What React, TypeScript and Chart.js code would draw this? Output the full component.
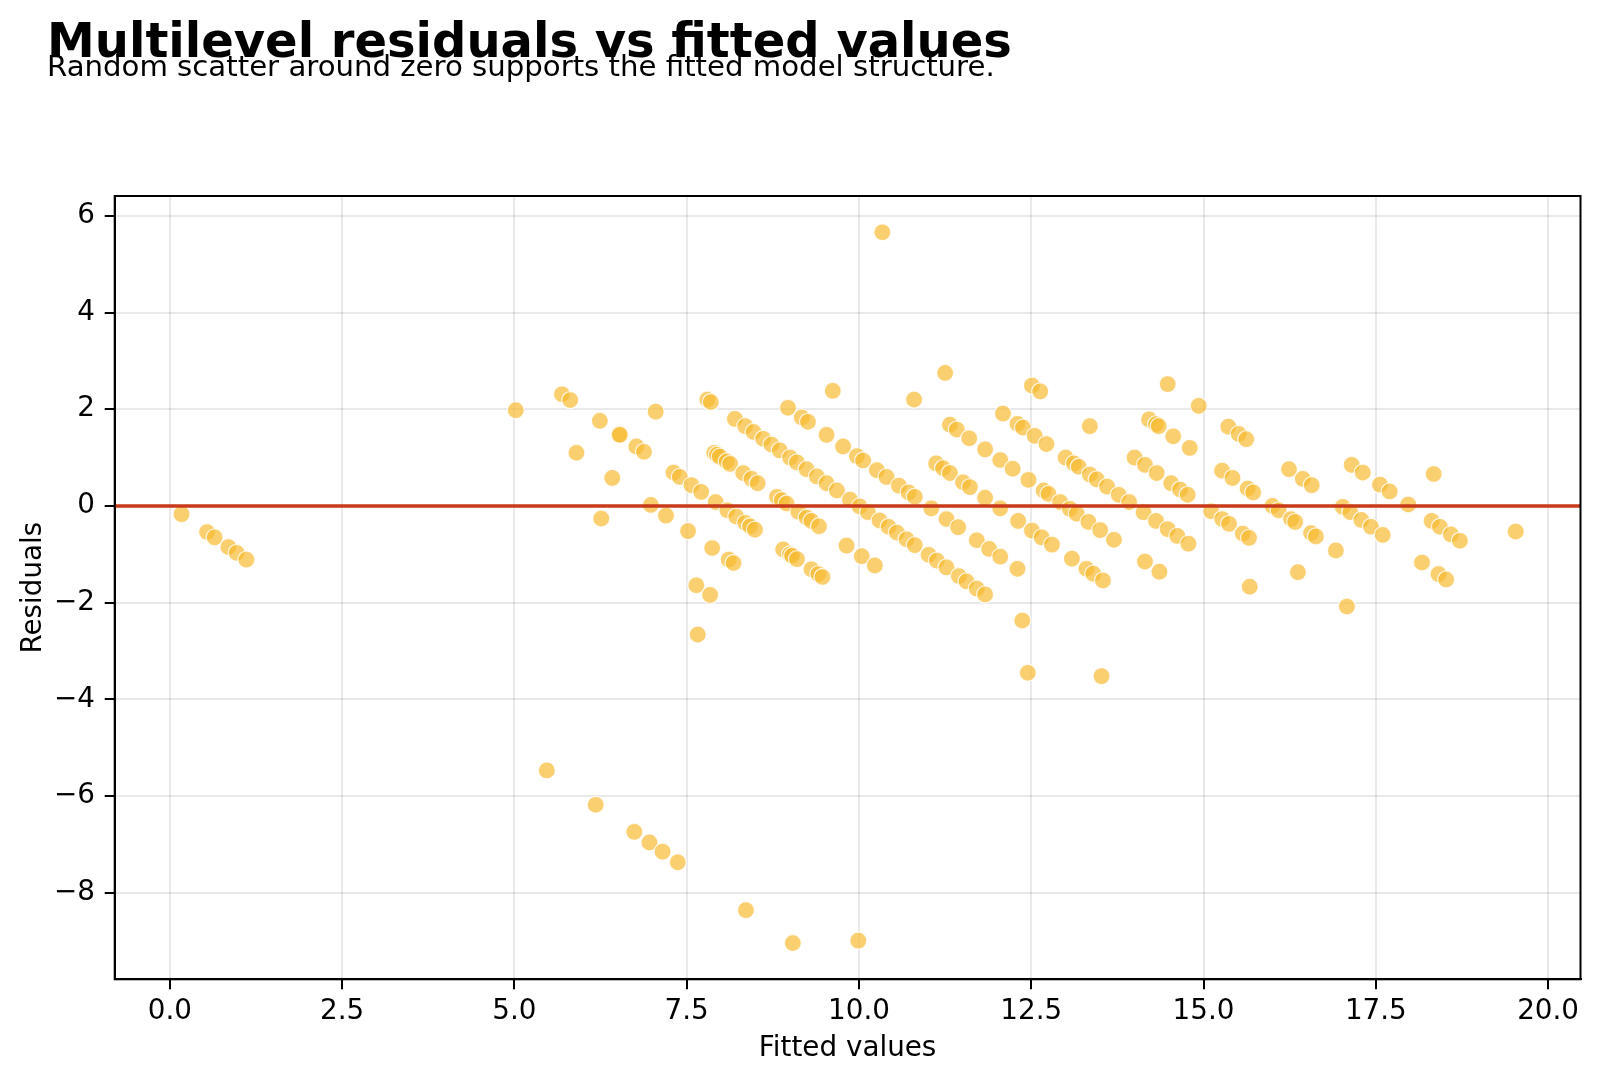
import React, { useEffect, useRef } from 'react';
import { Chart, registerables } from 'chart.js';

Chart.register(...registerables);

const FONT = "'DejaVu Sans', 'Liberation Sans', sans-serif";

const TITLE = 'Multilevel residuals vs fitted values';
const SUBTITLE = 'Random scatter around zero supports the fitted model structure.';
const X_LABEL = 'Fitted values';
const Y_LABEL = 'Residuals';

const xTicks = [0, 2.5, 5, 7.5, 10, 12.5, 15, 17.5, 20];
const yTicks = [-8, -6, -4, -2, 0, 2, 4, 6];
const X_MIN = -0.8;
const X_MAX = 20.47;
const Y_MIN = -9.79;
const Y_MAX = 6.41;
const ZERO_LINE = 0;

// [fitted value, residual] pairs, grouped by the observed count
const obs0: [number, number][] = [[0.17, -0.17], [0.54, -0.54], [0.65, -0.65], [0.85, -0.85], [0.97, -0.97], [1.11, -1.11], [5.47, -5.47], [6.18, -6.18], [6.74, -6.74], [6.96, -6.96], [7.15, -7.15], [7.37, -7.37], [8.36, -8.36], [9.04, -9.04]];
const obs1: [number, number][] = [[9.99, -8.99]];
const obs5: [number, number][] = [[7.66, -2.66]];
const obs6: [number, number][] = [[6.26, -0.26], [7.64, -1.64], [7.84, -1.84]];
const obs7: [number, number][] = [[5.02, 1.98], [5.90, 1.10], [6.42, 0.58], [6.98, 0.02], [7.20, -0.20], [7.52, -0.52], [7.87, -0.87], [8.11, -1.11], [8.18, -1.18]];
const obs8: [number, number][] = [[5.69, 2.31], [5.81, 2.19], [6.24, 1.76], [6.52, 1.48], [6.53, 1.47], [6.77, 1.23], [6.88, 1.12], [7.31, 0.69], [7.40, 0.60], [7.57, 0.43], [7.71, 0.29], [7.92, 0.08], [8.09, -0.09], [8.22, -0.22], [8.35, -0.35], [8.42, -0.42], [8.49, -0.49], [8.90, -0.90], [9.00, -1.00], [9.03, -1.03], [9.10, -1.10], [9.31, -1.31], [9.41, -1.41], [9.47, -1.47]];
const obs9: [number, number][] = [[7.05, 1.95], [7.90, 1.10], [7.94, 1.06], [7.98, 1.02], [8.08, 0.92], [8.13, 0.87], [8.32, 0.68], [8.44, 0.56], [8.53, 0.47], [8.81, 0.19], [8.88, 0.12], [8.95, 0.05], [9.12, -0.12], [9.24, -0.24], [9.31, -0.31], [9.42, -0.42], [9.82, -0.82], [10.04, -1.04], [10.23, -1.23], [12.45, -3.45]];
const obs10: [number, number][] = [[7.80, 2.20], [7.85, 2.15], [8.20, 1.80], [8.35, 1.65], [8.47, 1.53], [8.61, 1.39], [8.73, 1.27], [8.85, 1.15], [9.00, 1.00], [9.10, 0.90], [9.24, 0.76], [9.39, 0.61], [9.53, 0.47], [9.68, 0.32], [9.87, 0.13], [10.01, -0.01], [10.13, -0.13], [10.30, -0.30], [10.43, -0.43], [10.55, -0.55], [10.69, -0.69], [10.81, -0.81], [11.01, -1.01], [11.13, -1.13], [11.27, -1.27], [11.45, -1.45], [11.56, -1.56], [11.71, -1.71], [11.83, -1.83], [12.37, -2.37], [13.52, -3.52]];
const obs11: [number, number][] = [[8.97, 2.03], [9.17, 1.83], [9.26, 1.74], [9.53, 1.47], [9.77, 1.23], [9.97, 1.03], [10.06, 0.94], [10.26, 0.74], [10.40, 0.60], [10.58, 0.42], [10.72, 0.28], [10.81, 0.19], [11.05, -0.05], [11.27, -0.27], [11.44, -0.44], [11.71, -0.71], [11.89, -0.89], [12.05, -1.05], [12.30, -1.30]];
const obs12: [number, number][] = [[9.62, 2.38], [11.12, 0.88], [11.22, 0.78], [11.32, 0.68], [11.51, 0.49], [11.61, 0.39], [11.83, 0.17], [12.05, -0.05], [12.31, -0.31], [12.51, -0.51], [12.65, -0.65], [12.80, -0.80], [13.09, -1.09], [13.30, -1.30], [13.40, -1.40], [13.54, -1.54]];
const obs13: [number, number][] = [[10.80, 2.20], [11.32, 1.68], [11.42, 1.58], [11.60, 1.40], [11.83, 1.17], [12.05, 0.95], [12.23, 0.77], [12.46, 0.54], [12.68, 0.32], [12.75, 0.25], [12.92, 0.08], [13.06, -0.06], [13.16, -0.16], [13.33, -0.33], [13.50, -0.50], [13.70, -0.70], [14.15, -1.15], [14.36, -1.36]];
const obs14: [number, number][] = [[11.25, 2.75], [12.09, 1.91], [12.30, 1.70], [12.38, 1.62], [12.55, 1.45], [12.72, 1.28], [13.00, 1.00], [13.12, 0.88], [13.19, 0.81], [13.35, 0.65], [13.45, 0.55], [13.60, 0.40], [13.77, 0.23], [13.92, 0.08], [14.13, -0.13], [14.31, -0.31], [14.48, -0.48], [14.62, -0.62], [14.78, -0.78], [15.67, -1.67]];
const obs15: [number, number][] = [[12.51, 2.49], [12.63, 2.37], [13.35, 1.65], [14.00, 1.00], [14.15, 0.85], [14.32, 0.68], [14.53, 0.47], [14.66, 0.34], [14.77, 0.23], [15.11, -0.11], [15.27, -0.27], [15.37, -0.37], [15.57, -0.57], [15.66, -0.66], [16.37, -1.37], [17.08, -2.08]];
const obs16: [number, number][] = [[10.34, 5.66], [14.21, 1.79], [14.31, 1.69], [14.35, 1.65], [14.56, 1.44], [14.80, 1.20], [15.27, 0.73], [15.42, 0.58], [15.64, 0.36], [15.72, 0.28], [16.00, 0.00], [16.09, -0.09], [16.27, -0.27], [16.33, -0.33], [16.56, -0.56], [16.63, -0.63], [16.92, -0.92]];
const obs17: [number, number][] = [[14.48, 2.52], [14.93, 2.07], [15.36, 1.64], [15.51, 1.49], [15.62, 1.38], [16.24, 0.76], [16.44, 0.56], [16.57, 0.43], [17.02, -0.02], [17.13, -0.13], [17.29, -0.29], [17.43, -0.43], [17.60, -0.60], [18.17, -1.17], [18.41, -1.41], [18.52, -1.52]];
const obs18: [number, number][] = [[17.15, 0.85], [17.31, 0.69], [17.56, 0.44], [17.70, 0.30], [17.97, 0.03], [18.31, -0.31], [18.43, -0.43], [18.59, -0.59], [18.72, -0.72]];
const obs19: [number, number][] = [[18.34, 0.66], [19.53, -0.53]];

const groups = [obs0, obs1, obs5, obs6, obs7, obs8, obs9, obs10, obs11, obs12, obs13, obs14, obs15, obs16, obs17, obs18, obs19];

const W = 1600;
const H = 1081;
const PLOT_LEFT = 114.7;
const PLOT_RIGHT = 1580.5;
const PLOT_TOP = 196;
const PLOT_BOTTOM = 979.3;

const framePlugin = {
  id: 'frame',
  afterDatasetsDraw(chart: any) {
    const { ctx, chartArea } = chart;
    const { left, top, right, bottom } = chartArea;
    ctx.save();
    ctx.strokeStyle = '#000';
    ctx.lineWidth = 2;
    ctx.strokeRect(left, top, right - left, bottom - top);
    ctx.restore();
  },
};

export default function App() {
  const canvasRef = useRef<HTMLCanvasElement | null>(null);

  useEffect(() => {
    const canvas = canvasRef.current;
    if (!canvas) return;
    const points = groups.flat().map(([x, y]) => ({ x, y }));
    const chart = new Chart(canvas, {
      type: 'scatter',
      data: {
        datasets: [
          {
            type: 'line',
            data: [
              { x: X_MIN, y: ZERO_LINE },
              { x: X_MAX, y: ZERO_LINE },
            ],
            borderColor: '#c93a1a',
            borderWidth: 3.4,
            pointRadius: 0,
            fill: false,
            order: 0,
          } as any,
          {
            type: 'scatter',
            data: points,
            backgroundColor: 'rgba(247,186,50,0.7)',
            borderColor: 'rgba(255,255,255,0.8)',
            borderWidth: 1.3,
            pointRadius: 8.5,
            pointHoverRadius: 8.5,
            order: 1,
          } as any,
        ],
      },
      options: {
        animation: false,
        responsive: false,
        devicePixelRatio: 1,
        layout: {
          padding: { left: 0, top: PLOT_TOP, right: W - PLOT_RIGHT, bottom: 0 },
        },
        plugins: {
          legend: { display: false },
          tooltip: { enabled: false },
        },
        scales: {
          x: {
            type: 'linear',
            min: X_MIN,
            max: X_MAX,
            afterBuildTicks: (s: any) => {
              s.ticks = xTicks.map((v) => ({ value: v }));
            },
            afterFit: (s: any) => {
              s.height = H - PLOT_BOTTOM;
              s.paddingLeft = 0;
              s.paddingRight = 0;
            },
            grid: {
              color: 'rgba(0,0,0,0.085)',
              lineWidth: 2,
              drawTicks: true,
              tickLength: 10,
              tickColor: '#000',
              tickWidth: 2,
            },
            border: { display: true, color: '#000', width: 2 },
            ticks: {
              font: { size: 27.8, family: FONT },
              color: '#000',
              padding: 6,
              maxRotation: 0,
              autoSkip: false,
              callback: (v: any) => Number(v).toFixed(1),
            },
            title: {
              display: true,
              text: X_LABEL,
              font: { size: 27.8, family: FONT },
              color: '#000',
              padding: { top: 0, bottom: 16 },
            },
          },
          y: {
            type: 'linear',
            min: Y_MIN,
            max: Y_MAX,
            afterBuildTicks: (s: any) => {
              s.ticks = yTicks.map((v) => ({ value: v }));
            },
            afterFit: (s: any) => {
              s.width = PLOT_LEFT;
              s.paddingTop = 0;
              s.paddingBottom = 0;
            },
            grid: {
              color: 'rgba(0,0,0,0.085)',
              lineWidth: 2,
              drawTicks: true,
              tickLength: 10,
              tickColor: '#000',
              tickWidth: 2,
            },
            border: { display: true, color: '#000', width: 2 },
            ticks: {
              font: { size: 27.8, family: FONT },
              color: '#000',
              padding: 9.7,
              autoSkip: false,
              callback: (v: any) => (Number(v) < 0 ? '\u2212' + Math.abs(Number(v)) : String(v)),
            },
            title: {
              display: true,
              text: Y_LABEL,
              font: { size: 27.8, family: FONT },
              color: '#000',
              padding: { top: 17, bottom: 0 },
            },
          },
        },
      } as any,
      plugins: [framePlugin],
    });
    return () => chart.destroy();
  }, []);

  return (
    <div style={{ position: 'absolute', left: 0, top: 0, width: W, height: H, background: '#fff' }}>
      <canvas ref={canvasRef} width={W} height={H} style={{ display: 'block', width: W, height: H }} />
      <div
        style={{
          position: 'absolute',
          left: 47,
          top: 11.5,
          fontFamily: FONT,
          fontWeight: 'bold',
          fontSize: 48,
          lineHeight: 'normal',
          color: '#000',
          whiteSpace: 'nowrap',
        }}
      >
        {TITLE}
      </div>
      <div
        style={{
          position: 'absolute',
          left: 47,
          top: 49,
          fontFamily: FONT,
          fontSize: 29.2,
          lineHeight: 'normal',
          color: '#000',
          whiteSpace: 'nowrap',
        }}
      >
        {SUBTITLE}
      </div>
    </div>
  );
}
